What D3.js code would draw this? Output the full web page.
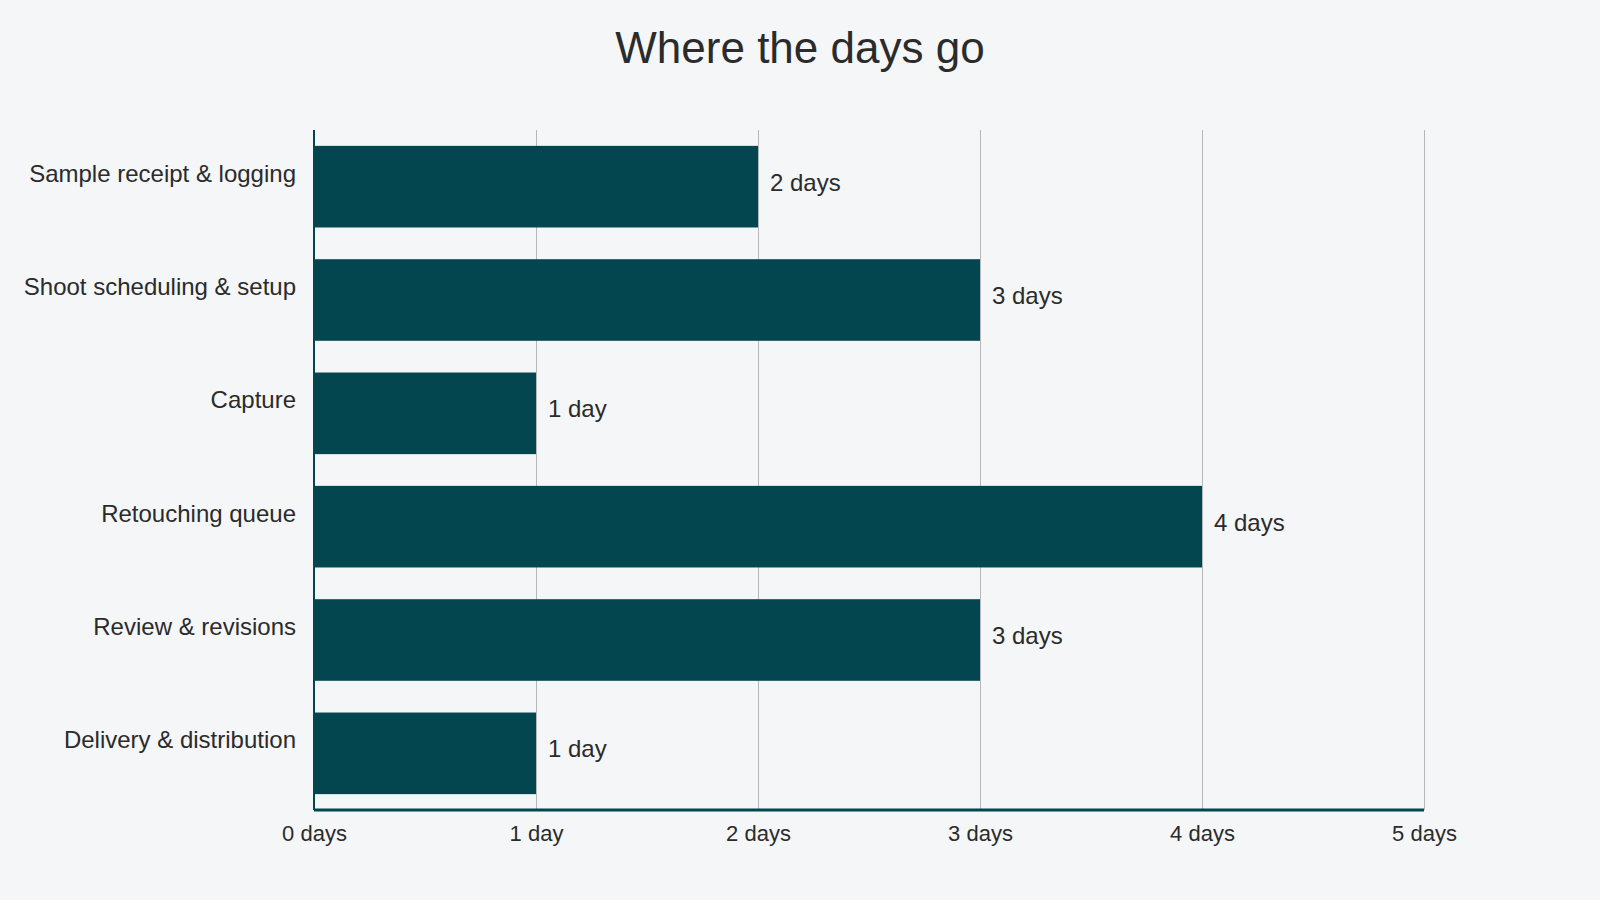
<!DOCTYPE html>
<html>
<head>
<meta charset="utf-8">
<script src="https://cdn.jsdelivr.net/npm/d3@7"></script>
<style>
  body { margin: 0; background: #f4f6f8; }
  svg { display: block; font-family: "Liberation Sans", Arial, sans-serif; }
</style>
</head>
<body>
<div id="chart"></div>
<script>
// data
var stages = ["Sample receipt & logging", "Shoot scheduling & setup", "Capture",
              "Retouching queue", "Review & revisions", "Delivery & distribution"];
var days = [2, 3, 1, 4, 3, 1];
var tickValues = [0, 1, 2, 3, 4, 5];
var tickLabels = ["0 days", "1 day", "2 days", "3 days", "4 days", "5 days"];

function dayLabel(v){ return v === 1 ? "1 day" : v + " days"; }

function barChart(){
  var W = 1600, H = 900;
  var margin = {top: 130, right: 176, bottom: 90, left: 314};
  var width = W - margin.left - margin.right, height = H - margin.top - margin.bottom;
  var svg = d3.select("#chart")
      .append("svg")
      .attr("width", W)
      .attr("height", H);

  svg.append("rect").attr("width", W).attr("height", H).attr("fill", "#f4f6f8");

  // title
  svg.append("text")
    .attr("x", W/2)
    .attr("y", 63)
    .attr("text-anchor", "middle")
    .attr("font-size", 44)
    .attr("fill", "#2b2b2b")
    .text("Where the days go");

  var g = svg.append("g")
    .attr("transform", "translate(" + margin.left + "," + margin.top + ")");

  var x = d3.scaleLinear().domain([0, 5]).range([0, width]);
  var y = d3.scaleBand().domain(stages).range([0, height])
    .paddingInner(0.28).paddingOuter(0.14);

  // grid lines
  g.selectAll("line.grid")
    .data(tickValues.slice(1))
    .enter().append("line")
    .attr("class", "grid")
    .attr("x1", d => x(d) + 0.5).attr("x2", d => x(d) + 0.5)
    .attr("y1", 0).attr("y2", height)
    .attr("stroke", "#b5b8bb")
    .attr("stroke-width", 1);

  // bars
  g.selectAll("rect.bar")
    .data(days)
    .enter().append("rect")
    .attr("class", "bar")
    .attr("x", x(0))
    .attr("y", (d, i) => y(stages[i]))
    .attr("width", d => x(d) - x(0))
    .attr("height", y.bandwidth())
    .attr("fill", "#03464f");

  // value labels
  g.selectAll("text.value")
    .data(days)
    .enter().append("text")
    .attr("class", "value")
    .attr("x", d => x(d) + 12)
    .attr("y", (d, i) => y(stages[i]) + y.bandwidth()/2 + 4)
    .attr("font-size", 24)
    .attr("fill", "#2b2b2b")
    .text(d => dayLabel(d));

  // category labels
  g.selectAll("text.cat")
    .data(stages)
    .enter().append("text")
    .attr("class", "cat")
    .attr("x", -18)
    .attr("y", d => y(d) + y.bandwidth()/2 - 5)
    .attr("text-anchor", "end")
    .attr("font-size", 24)
    .attr("fill", "#2b2b2b")
    .text(d => d);

  // x axis
  var xAxis = g.append("g")
    .attr("transform", "translate(0," + height + ")")
    .call(d3.axisBottom(x).tickValues(tickValues)
      .tickFormat((d, i) => tickLabels[i]).tickSize(0).tickPadding(15));
  xAxis.select(".domain").remove();
  xAxis.selectAll("text")
    .attr("font-size", 22)
    .attr("fill", "#2b2b2b")
    .attr("font-family", "Liberation Sans, Arial, sans-serif");

  g.append("line")
    .attr("x1", 0).attr("x2", width)
    .attr("y1", height).attr("y2", height)
    .attr("stroke", "#03464f")
    .attr("stroke-width", 3);

  // left axis line
  g.append("line")
    .attr("x1", 0).attr("x2", 0)
    .attr("y1", 0).attr("y2", height)
    .attr("stroke", "#03464f")
    .attr("stroke-width", 2);
}

barChart();
</script>
</body>
</html>
